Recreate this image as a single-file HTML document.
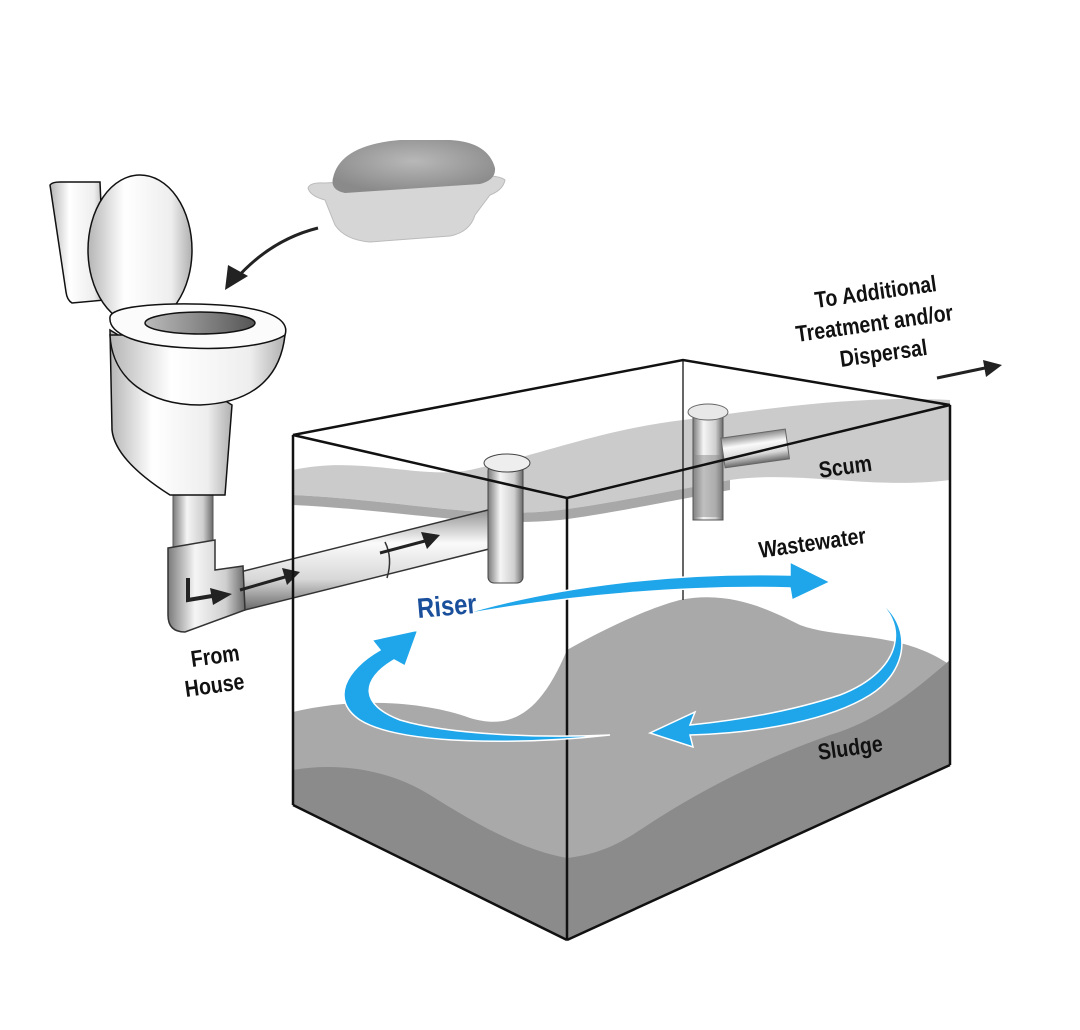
<!DOCTYPE html>
<html><head><meta charset="utf-8"><style>
html,body{margin:0;padding:0;background:#fff;}
svg{display:block;}
text{font-family:"Liberation Sans",sans-serif;}
</style></head><body>
<svg width="1080" height="1030" viewBox="0 0 1080 1030" xmlns="http://www.w3.org/2000/svg">
<defs>
<linearGradient id="pipeH" x1="0" y1="0" x2="0" y2="1">
<stop offset="0" stop-color="#8a8a8a"/><stop offset="0.35" stop-color="#fafafa"/><stop offset="0.7" stop-color="#d8d8d8"/><stop offset="1" stop-color="#6a6a6a"/></linearGradient>
<linearGradient id="pipeV" x1="0" y1="0" x2="1" y2="0">
<stop offset="0" stop-color="#7a7a7a"/><stop offset="0.35" stop-color="#f5f5f5"/><stop offset="0.75" stop-color="#cfcfcf"/><stop offset="1" stop-color="#6a6a6a"/></linearGradient>
<linearGradient id="porc" x1="0" y1="0" x2="1" y2="0">
<stop offset="0" stop-color="#b5b5b5"/><stop offset="0.35" stop-color="#ffffff"/><stop offset="0.8" stop-color="#eeeeee"/><stop offset="1" stop-color="#b0b0b0"/></linearGradient>
<linearGradient id="bowlin" x1="0" y1="0" x2="1" y2="0">
<stop offset="0" stop-color="#bbb"/><stop offset="1" stop-color="#555"/></linearGradient>
<radialGradient id="soap" cx="0.5" cy="0.4" r="0.6">
<stop offset="0" stop-color="#b8b8b8"/><stop offset="1" stop-color="#8a8a8a"/></radialGradient>
</defs>

<!-- scum -->
<path d="M293 470 C360 455 420 480 470 470 C540 455 600 430 683 420 C760 410 850 395 950 400 L950 480 C870 490 800 470 730 480 C650 495 600 505 560 510 C480 520 400 500 293 495 Z" fill="#cbcbcb"/>
<path d="M293 495 C400 500 480 520 560 510 C600 505 650 495 730 480 L730 490 C650 505 600 515 560 520 C480 528 400 510 293 505 Z" fill="#a8a8a8"/>
<!-- sludge top surface (light) -->
<path d="M293 712 C350 698 420 700 470 718 C510 730 540 715 567 650 C620 620 660 605 680 600 C730 590 770 610 800 625 C840 640 900 630 950 665 L950 765 L567 940 L293 805 Z" fill="#a9a9a9"/>
<!-- darker front band -->
<path d="M950 660 C915 690 880 720 830 735 C760 760 700 790 640 830 C610 850 590 855 567 858 C520 850 470 820 430 795 C390 770 340 762 293 770 L293 805 L567 940 L950 765 Z" fill="#8b8b8b"/>

<line x1="683" y1="360" x2="683" y2="600" stroke="#333" stroke-width="1.5"/>

<!-- back riser -->
<rect x="693" y="412" width="30" height="108" fill="url(#pipeV)" stroke="#555" stroke-width="1"/>
<rect x="723" y="438" width="65" height="30" fill="url(#pipeH)" stroke="#666" stroke-width="1" transform="rotate(-8 723 453)"/>
<ellipse cx="708" cy="412" rx="20" ry="8" fill="#e8e8e8" stroke="#666"/>
<rect x="695" y="455" width="26" height="62" fill="#8a8a8a" opacity="0.5"/>

<!-- inlet pipe -->
<path d="M240 572 L500 507 L505 545 L245 610 Z" fill="url(#pipeH)" stroke="#333" stroke-width="1.5"/>
<ellipse cx="502" cy="526" rx="9" ry="19" fill="#888"/>
<path d="M385 542 Q393 558 387 578" stroke="#333" fill="none" stroke-width="1.5"/>
<rect x="173" y="490" width="40" height="60" fill="url(#pipeV)" stroke="#555"/>
<path d="M168 548 L215 540 L215 570 L243 566 L245 610 L185 632 Q168 632 168 615 Z" fill="url(#pipeV)" stroke="#333" stroke-width="1.5"/>
<rect x="488" y="465" width="35" height="118" rx="6" fill="url(#pipeV)" stroke="#444"/>
<ellipse cx="507" cy="463" rx="23" ry="9" fill="#eee" stroke="#444"/>
<path d="M188 578 L188 600 L212 596" stroke="#222" stroke-width="4" fill="none"/><path d="M210 588 L232 594 L213 605 Z" fill="#222"/>
<path d="M240 590 L285 577" stroke="#222" stroke-width="3"/><path d="M282 568 L300 572 L287 585 Z" fill="#222"/>
<path d="M380 553 L425 541" stroke="#222" stroke-width="3"/><path d="M421 532 L440 535 L427 549 Z" fill="#222"/>

<!-- tank edges -->
<g stroke="#111" stroke-width="2.5" fill="none">
<path d="M293 435 L683 360 L950 405 L567 498 Z"/>
<line x1="293" y1="435" x2="293" y2="805"/>
<line x1="567" y1="498" x2="567" y2="940"/>
<line x1="950" y1="405" x2="950" y2="765"/>
<line x1="293" y1="805" x2="567" y2="940"/>
<line x1="567" y1="940" x2="950" y2="765"/>
</g>

<!-- blue flow arrows -->
<g fill="#1fa6ea" stroke="#fff" stroke-width="1.5">
<path d="M460 615 C560 585 680 572 790 575 L790 562 L830 582 L792 600 L790 588 C690 585 570 595 460 615 Z"/>
<path d="M870 595 C910 620 905 670 840 695 C780 715 720 722 690 725 L695 712 L650 733 L693 747 L690 735 C760 733 830 720 870 695 C910 670 915 620 870 595 Z"/>
<path d="M610 735 C520 745 400 745 360 720 C330 700 345 670 380 650 L372 640 L418 630 L405 666 L394 660 C360 680 360 705 400 720 C450 735 540 738 610 735 Z"/>
</g>

<!-- toilet -->
<g stroke="#111" stroke-width="1.5">
<path d="M50 185 Q52 182 60 182 L100 182 L105 300 L72 303 Q67 300 66 292 Z" fill="url(#porc)"/>
<path d="M110 330 L112 430 Q115 460 170 495 L225 495 L232 405 Z" fill="url(#porc)"/>
<path d="M110 335 C112 380 150 405 200 405 C250 403 280 380 285 335 Z" fill="url(#porc)"/>
<ellipse cx="140" cy="250" rx="52" ry="75" fill="url(#porc)"/>
<path d="M110 317 C112 305 170 302 220 305 C270 308 290 320 285 335 C270 345 230 350 190 348 C140 346 108 335 110 317 Z" fill="#fbfbfb"/>
<ellipse cx="200" cy="323" rx="55" ry="11" fill="url(#bowlin)"/>
</g>

<!-- soap -->
<path d="M308 188 Q310 182 325 183 L470 175 Q500 175 505 180 Q503 190 490 195 L475 215 Q470 232 450 236 L370 242 Q345 240 335 225 L325 200 Q310 196 308 188 Z" fill="#d6d6d6" stroke="#bbb"/>
<path d="M333 178 Q340 145 400 140 L450 140 Q488 142 495 168 Q496 180 480 184 L345 193 Q330 190 333 178 Z" fill="url(#soap)"/>
<path d="M318 228 Q270 240 235 280" stroke="#222" stroke-width="3" fill="none"/>
<path d="M225 290 L228 265 L248 276 Z" fill="#222"/>

<!-- outlet arrow -->
<path d="M937 378 L985 368" stroke="#222" stroke-width="3"/><path d="M983 360 L1002 365 L986 377 Z" fill="#222"/>

<!-- labels -->
<g font-weight="bold" font-size="23" fill="#111">
<text transform="translate(816,308) rotate(-8) scale(0.85,1)">To Additional</text>
<text transform="translate(797,342) rotate(-8) scale(0.85,1)">Treatment and/or</text>
<text transform="translate(841,367) rotate(-8) scale(0.85,1)">Dispersal</text>
<text transform="translate(820,478) rotate(-8) scale(0.85,1)">Scum</text>
<text transform="translate(760,558) rotate(-8) scale(0.85,1)">Wastewater</text>
<text transform="translate(819,760) rotate(-8) scale(0.85,1)">Sludge</text>
<text transform="translate(192,667) rotate(-8) scale(0.85,1)">From</text>
<text transform="translate(186,697) rotate(-8) scale(0.85,1)">House</text>
</g>
<text transform="translate(418,618) rotate(-5) scale(0.85,1)" font-size="28" font-weight="bold" fill="#1a4f9c">Riser</text>
</svg>
</body></html>
